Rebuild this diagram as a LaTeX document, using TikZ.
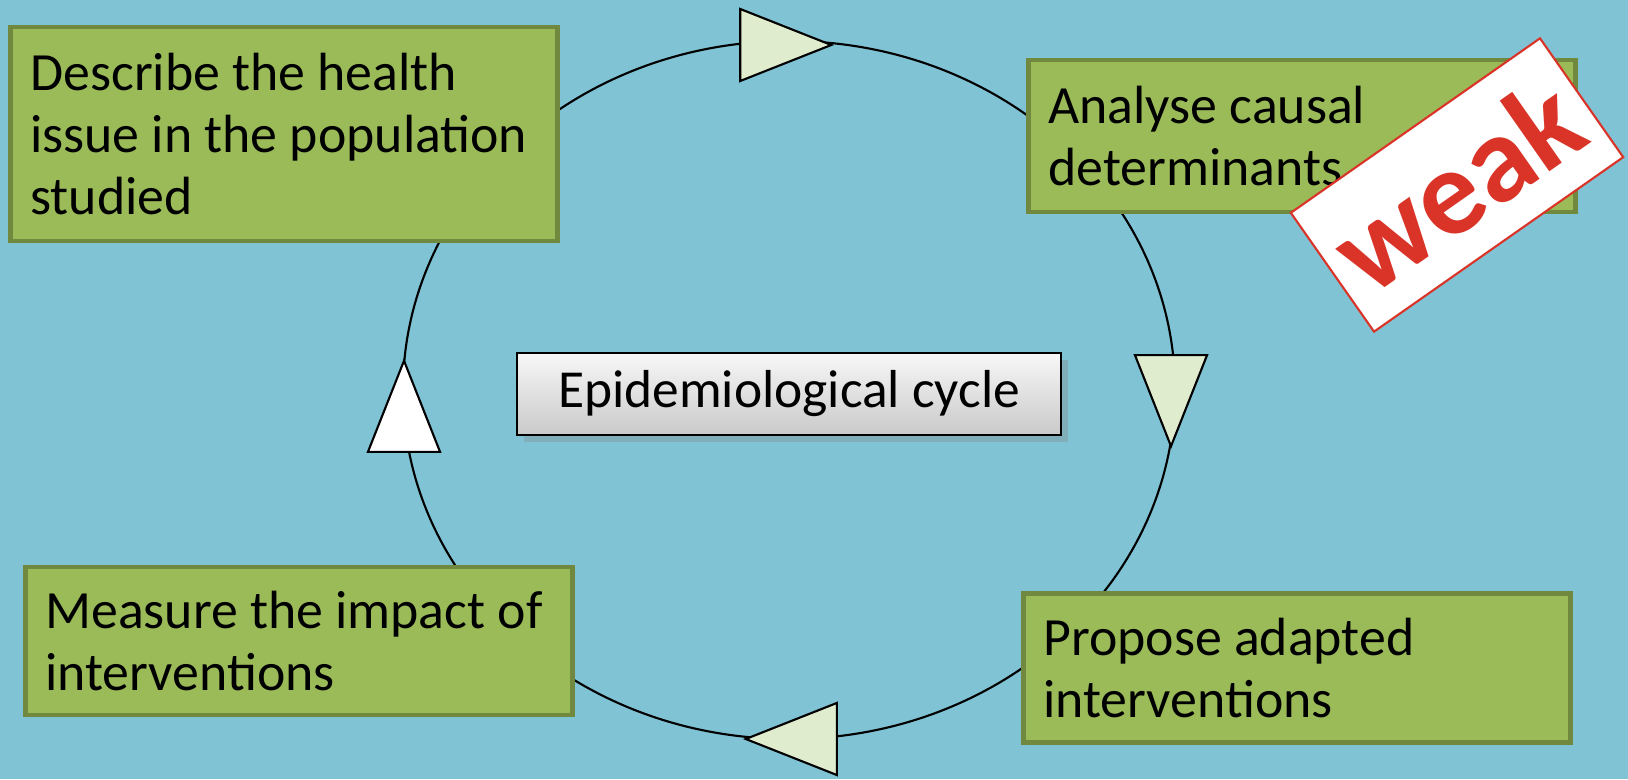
\documentclass[tikz,border=0pt]{standalone}
\usepackage{fontspec}
\setmainfont{Carlito}
\usepackage{xcolor}
\usetikzlibrary{shapes.geometric, shadows}

\definecolor{bgblue}{RGB}{128,195,213}
\definecolor{boxgreen}{RGB}{155,187,89}
\definecolor{boxedge}{RGB}{113,137,63}
\definecolor{trifill}{RGB}{224,236,206}
\definecolor{stampred}{RGB}{218,52,40}

\begin{document}
\begin{tikzpicture}[
        x=0.01cm, y=0.01cm,
        stepbox/.style={
            rectangle,
            draw=boxedge,
            line width=1.3pt,
            fill=boxgreen,
            align=flush left,
            inner xsep=0.2cm,
            text width=5.07cm,
            minimum width=5.47cm,
            font=\fontsize{15.3}{17.7}\selectfont
        },
        hub/.style={
            rectangle,
            draw=black,
            line width=0.6pt,
            top color=gray!6,
            bottom color=gray!42,
            drop shadow={opacity=0.3, shadow xshift=2pt, shadow yshift=-2pt},
            minimum width=5.44cm,
            minimum height=0.82cm,
            font=\fontsize{15.2}{17.7}\selectfont
        },
        tri/.style={
            isosceles triangle,
            isosceles triangle stretches,
            draw=black,
            line width=0.6pt,
            fill=trifill,
            inner sep=0pt,
            minimum height=0.91cm,
            minimum width=0.72cm
        },
        stamp/.style={
            rectangle,
            draw=stampred,
            line width=0.6pt,
            fill=white,
            minimum width=3.04cm,
            minimum height=1.45cm,
            text=stampred,
            font=\fontsize{35}{35}\selectfont\bfseries
        },
        cycleline/.style={
            draw=black,
            line width=0.6pt
        }
    ]

    \fill[bgblue] (0,0) rectangle (1628,779);
    \useasboundingbox (0,0) rectangle (1628,779);

    % cycle
    \coordinate (mid) at (789,389);
    \draw[cycleline] (mid) ellipse [x radius=386, y radius=349];

    % nodes
    \node[stepbox, minimum height=2.14cm] (describe) at (284,645) {
        Describe the health\\
        issue in the population\\
        studied
    };

    \node[stepbox, minimum height=1.52cm] (analyse) at (1302,643) {
        Analyse causal\\
        determinants
    };

    \node[stepbox, minimum height=1.49cm] (propose) at (1297,111) {
        Propose adapted\\
        interventions
    };

    \node[stepbox, minimum height=1.48cm] (measure) at (299,138) {
        Measure the impact of\\
        interventions
    };

    \node[hub] (epicycle) at (789,385) {Epidemiological cycle};

    % arrows
    \node[tri, anchor=apex] (totop) at (834,734) {};
    \node[tri, anchor=apex, rotate=-90] (toright) at (1171,330) {};
    \node[tri, anchor=apex, rotate=180] (tobottom) at (743,40) {};
    \node[tri, anchor=apex, rotate=90, fill=white] (toleft) at (404,421) {};

    % stamp
    \node[stamp, rotate=35] (weak) at (1457,594) {weak};

\end{tikzpicture}
\end{document}
